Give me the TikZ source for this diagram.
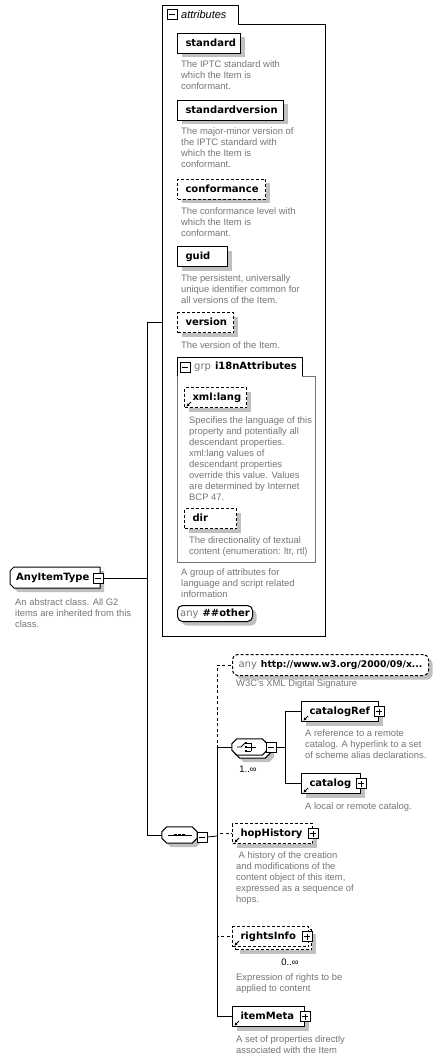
\documentclass[tikz,border=0pt]{standalone}
\usepackage{fontspec}
\setmainfont{Liberation Sans}
\newfontfamily\lblfont{DejaVu Sans}
\usepackage{tikz}
\usetikzlibrary{shadows,arrows.meta}

\definecolor{docgray}{RGB}{118,118,118}
\definecolor{shadegray}{RGB}{192,192,192}

\newcommand{\octpath}[1]{([xshift=5pt]#1.north west) -- ([xshift=-5pt]#1.north east) -- ([yshift=-5pt]#1.north east) -- ([yshift=5pt]#1.south east) -- ([xshift=-5pt]#1.south east) -- ([xshift=5pt]#1.south west) -- ([yshift=5pt]#1.south west) -- ([yshift=-5pt]#1.north west) -- cycle}

\tikzset{
  shad/.style={drop shadow={shadow xshift=4pt,shadow yshift=-4pt,fill=shadegray,opacity=1}},
  elembase/.style={draw, fill=white, line width=1pt, anchor=north west, inner xsep=8pt, inner ysep=0pt, minimum height=20pt, text height=7.5pt, text depth=2pt, align=left, font=\lblfont\bfseries\fontsize{10}{12}\selectfont},
  elem/.style={elembase, shad},
  opt/.style={dash pattern=on 3pt off 2pt},
  wild/.style={draw, fill=white, line width=1pt, rounded corners=5pt, anchor=north west, inner sep=0pt, shad, font=\lblfont\fontsize{10}{12}\selectfont},
  doc/.style={anchor=north west, inner sep=0pt, align=left, text=docgray, font=\fontsize{9.4}{11}\selectfont},
  conn/.style={line width=0.8pt},
  optconn/.style={line width=0.8pt, dash pattern=on 3pt off 2.5pt},
  comp/.style={minimum width=35pt, minimum height=16pt, inner sep=0pt},
  plusbox/.style={draw, fill=white, line width=0.8pt, minimum size=10pt, inner sep=0pt,
    path picture={\draw[line width=0.8pt] ([xshift=2pt]path picture bounding box.west) -- ([xshift=-2pt]path picture bounding box.east) ([yshift=-2pt]path picture bounding box.north) -- ([yshift=2pt]path picture bounding box.south);}},
  minusbox/.style={draw, fill=white, line width=0.8pt, minimum size=10pt, inner sep=0pt,
    path picture={\draw[line width=0.8pt] ([xshift=2pt]path picture bounding box.west) -- ([xshift=-2pt]path picture bounding box.east);}},
  refarrow/.style={line width=0.8pt, -{Stealth[length=3pt,width=3pt]}},
  mult/.style={inner sep=0pt, font=\fontsize{9.4}{11}\selectfont},
}

\begin{document}
\hyphenpenalty=10000
\exhyphenpenalty=10000
\begin{tikzpicture}[x=1pt,y=-1pt]
\path[use as bounding box, fill=white] (0,0) rectangle (447,1059);

%Attributes box
\draw[line width=0.9pt, fill=white] (162,5) -- (238,5) -- (238,24) -- (325,24) -- (325,636) -- (162,636) -- cycle;
\node[minusbox] (attrm) at (172,14.5) {};
% Text Node
\node[anchor=west, inner sep=0pt, font=\itshape\fontsize{11}{13}\selectfont] (attrlbl) at (181,14.5) {attributes};
\coordinate (attrs) at (162,322);

\node[elem] [text width=47pt] (standard) at (177,33) {standard};
\node[doc] (standard-doc) at (181,60) {The IPTC standard with\\which the Item is\\conformant.};
\node[elem] [text width=90pt] (stdversion) at (177,100) {standardversion};
\node[doc] (stdversion-doc) at (181,127) {The major-minor version of\\the IPTC standard with\\which the Item is\\conformant.};
\node[elem, opt] [text width=72pt] (conformance) at (177,179) {conformance};
\node[doc] (conformance-doc) at (181,207) {The conformance level with\\which the Item is\\conformant.};
\node[elem] [text width=34pt] (guid) at (177,246) {guid};
\node[doc] (guid-doc) at (181,274) {The persistent, universally\\unique identifier common for\\all versions of the Item.};
\node[elem, opt] [text width=40pt] (version) at (177,312) {version};
\node[doc] (version-doc) at (181,341) {The version of the Item.};

%Group i18nAttributes
\draw[docgray, line width=0.8pt] (302,376) -- (315,376) -- (315,562) -- (177,562) -- (177,376);
\draw[line width=0.8pt] (177,376) |- (302,357) -- (302,376);
\node[minusbox] (grpm) at (185,367) {};
% Text Node
\node[anchor=west, inner sep=0pt, font=\lblfont\fontsize{10}{12}\selectfont] (grplbl) at (194,367) {\textcolor{docgray}{grp}\hspace{4pt}\textbf{i18nAttributes}};
\node[elem, opt] [text width=46pt] (xmllang) at (184,387) {xml:lang};
\node[doc] (xmllang-doc) at (189,416) {Specifies the language of this\\property and potentially all\\descendant properties.\\xml:lang values of\\descendant properties\\override this value. Values\\are determined by Internet\\BCP 47.};
\node[elem, opt] [text width=36pt] (dir) at (184,508) {dir};
\node[doc] (dir-doc) at (189,536) {The directionality of textual\\content (enumeration: ltr, rtl)};
\node[doc] (grp-doc) at (181,568) {A group of attributes for\\language and script related\\information};
\node[wild, minimum width=75pt, minimum height=16pt] (other) at (177,605) {\textcolor{docgray}{any}\hspace{4pt}\textbf{\#\#other}};

%AnyItemType
\draw[line width=1pt, fill=white, shad] (14,567) -- (100,567) -- (100,588) -- (14,588) -- (10,584) -- (10,571) -- cycle;
\node[anchor=west, inner sep=0pt, font=\lblfont\bfseries\fontsize{10}{12}\selectfont] (anyitem) at (16,577.5) {AnyItemType};
\node[minusbox] (typem) at (98,578) {};
\node[doc] (anyitem-doc) at (15,598) {An abstract class. All G2\\items are inherited from this\\class.};

%Sequence
\node[comp] (seq) at (179.5,835) {};
\draw[line width=1pt, fill=white, shad] \octpath{seq};
\begin{scope}[shift={(seq.center)}]
  \draw[line width=0.8pt] (-12,0) -- (12,0);
  \foreach \xx in {-4,0,4} \fill (\xx-1.3,-1.3) rectangle (\xx+1.3,1.3);
\end{scope}
\node[minusbox] (seqm) at (202,837) {};

%Choice
\node[comp] (choiceback) at (252.5,750) {};
\draw[line width=1pt, fill=white, shad] \octpath{choiceback};
\node[comp] (choice) at (249.5,747) {};
\draw[line width=1pt, fill=white] \octpath{choice};
\begin{scope}[shift={(choice.center)}]
  \draw[line width=0.8pt] (-12.5,0) -- (-8.5,0) -- (-4.5,-4);
  \foreach \yy in {-4,0,4} {
    \fill (-4.4,\yy-1.1) rectangle (-2.2,\yy+1.1);
    \draw[line width=0.8pt] (-2.2,\yy) -- (1.5,\yy);
  }
  \draw[line width=0.8pt] (1.5,-4) -- (1.5,4) (1.5,0) -- (6,0);
\end{scope}
\node[minusbox] (choicem) at (271,747) {};
% Text Node
\node[mult] (choice-mult) at (248,769.5) {1..∞};

%Content elements
\node[wild, opt, minimum width=196pt, minimum height=21pt] (anyw) at (232,654) {\textcolor{docgray}{any}\hspace{4pt}{\bfseries\fontsize{9.2}{11}\selectfont http://www.w3.org/2000/09/x...}};
\node[doc] (anyw-doc) at (236,679) {W3C's XML Digital Signature};
\node[elem] [text width=61pt] (catref) at (301,701) {catalogRef};
\node[plusbox] (catrefp) at (catref.east) {};
\node[doc] (catref-doc) at (305,729) {A reference to a remote\\catalog. A hyperlink to a set\\of scheme alias declarations.};
\node[elem] [text width=43pt] (cat) at (301,773) {catalog};
\node[plusbox] (catp) at (cat.east) {};
\node[doc] (cat-doc) at (305,802) {A local or remote catalog.};
\node[elem, opt] [text width=64pt] (hop) at (232,823) {hopHistory};
\node[plusbox] (hopp) at (hop.east) {};
\node[doc] (hop-doc) at (236,851) {\hspace{2.5pt}A history of the creation\\and modifications of the\\content object of this item,\\expressed as a sequence of\\hops.};
\node[elem, opt, minimum width=76pt] (rightsback) at (235,929) {};
\node[elembase, opt] [text width=60pt] (rights) at (232,926) {rightsInfo};
\node[plusbox] (rightsp) at ([xshift=-2pt]rights.east) {};
% Text Node
\node[mult] (rights-mult) at (290,962) {0..∞};
\node[doc] (rights-doc) at (236,973) {Expression of rights to be\\applied to content};
\node[elem] [text width=56pt] (meta) at (232,1006) {itemMeta};
\node[plusbox] (metap) at (meta.east) {};
\node[doc] (meta-doc) at (236,1035) {A set of properties directly\\associated with the Item};

%Reference arrows
\foreach \n in {xmllang,catref,cat,hop,rights,meta}
  \draw[refarrow] ([shift={(7pt,6pt)}]\n.south west) -- ([shift={(2.5pt,1.5pt)}]\n.south west);

%Connectors
\coordinate (trunk) at (147,578);
\coordinate (branch) at (217,836);
\coordinate (chsplit) at (285,747);
\draw[conn] (typem.east) -- (trunk) |- (attrs);
\draw[conn] (trunk) |- (seq.west);
\draw[conn] (seqm.east) -- (branch);
\draw[optconn] (branch) |- (anyw.west);
\draw[optconn] (branch) |- (hop.west);
\draw[optconn] (branch) |- (rights.west);
\draw[conn] (branch) |- (choice.west);
\draw[conn] (branch) |- (meta.west);
\draw[conn] (choicem.east) -- (chsplit);
\draw[conn] (chsplit) |- (catref.west);
\draw[conn] (chsplit) |- (cat.west);

\end{tikzpicture}
\end{document}
